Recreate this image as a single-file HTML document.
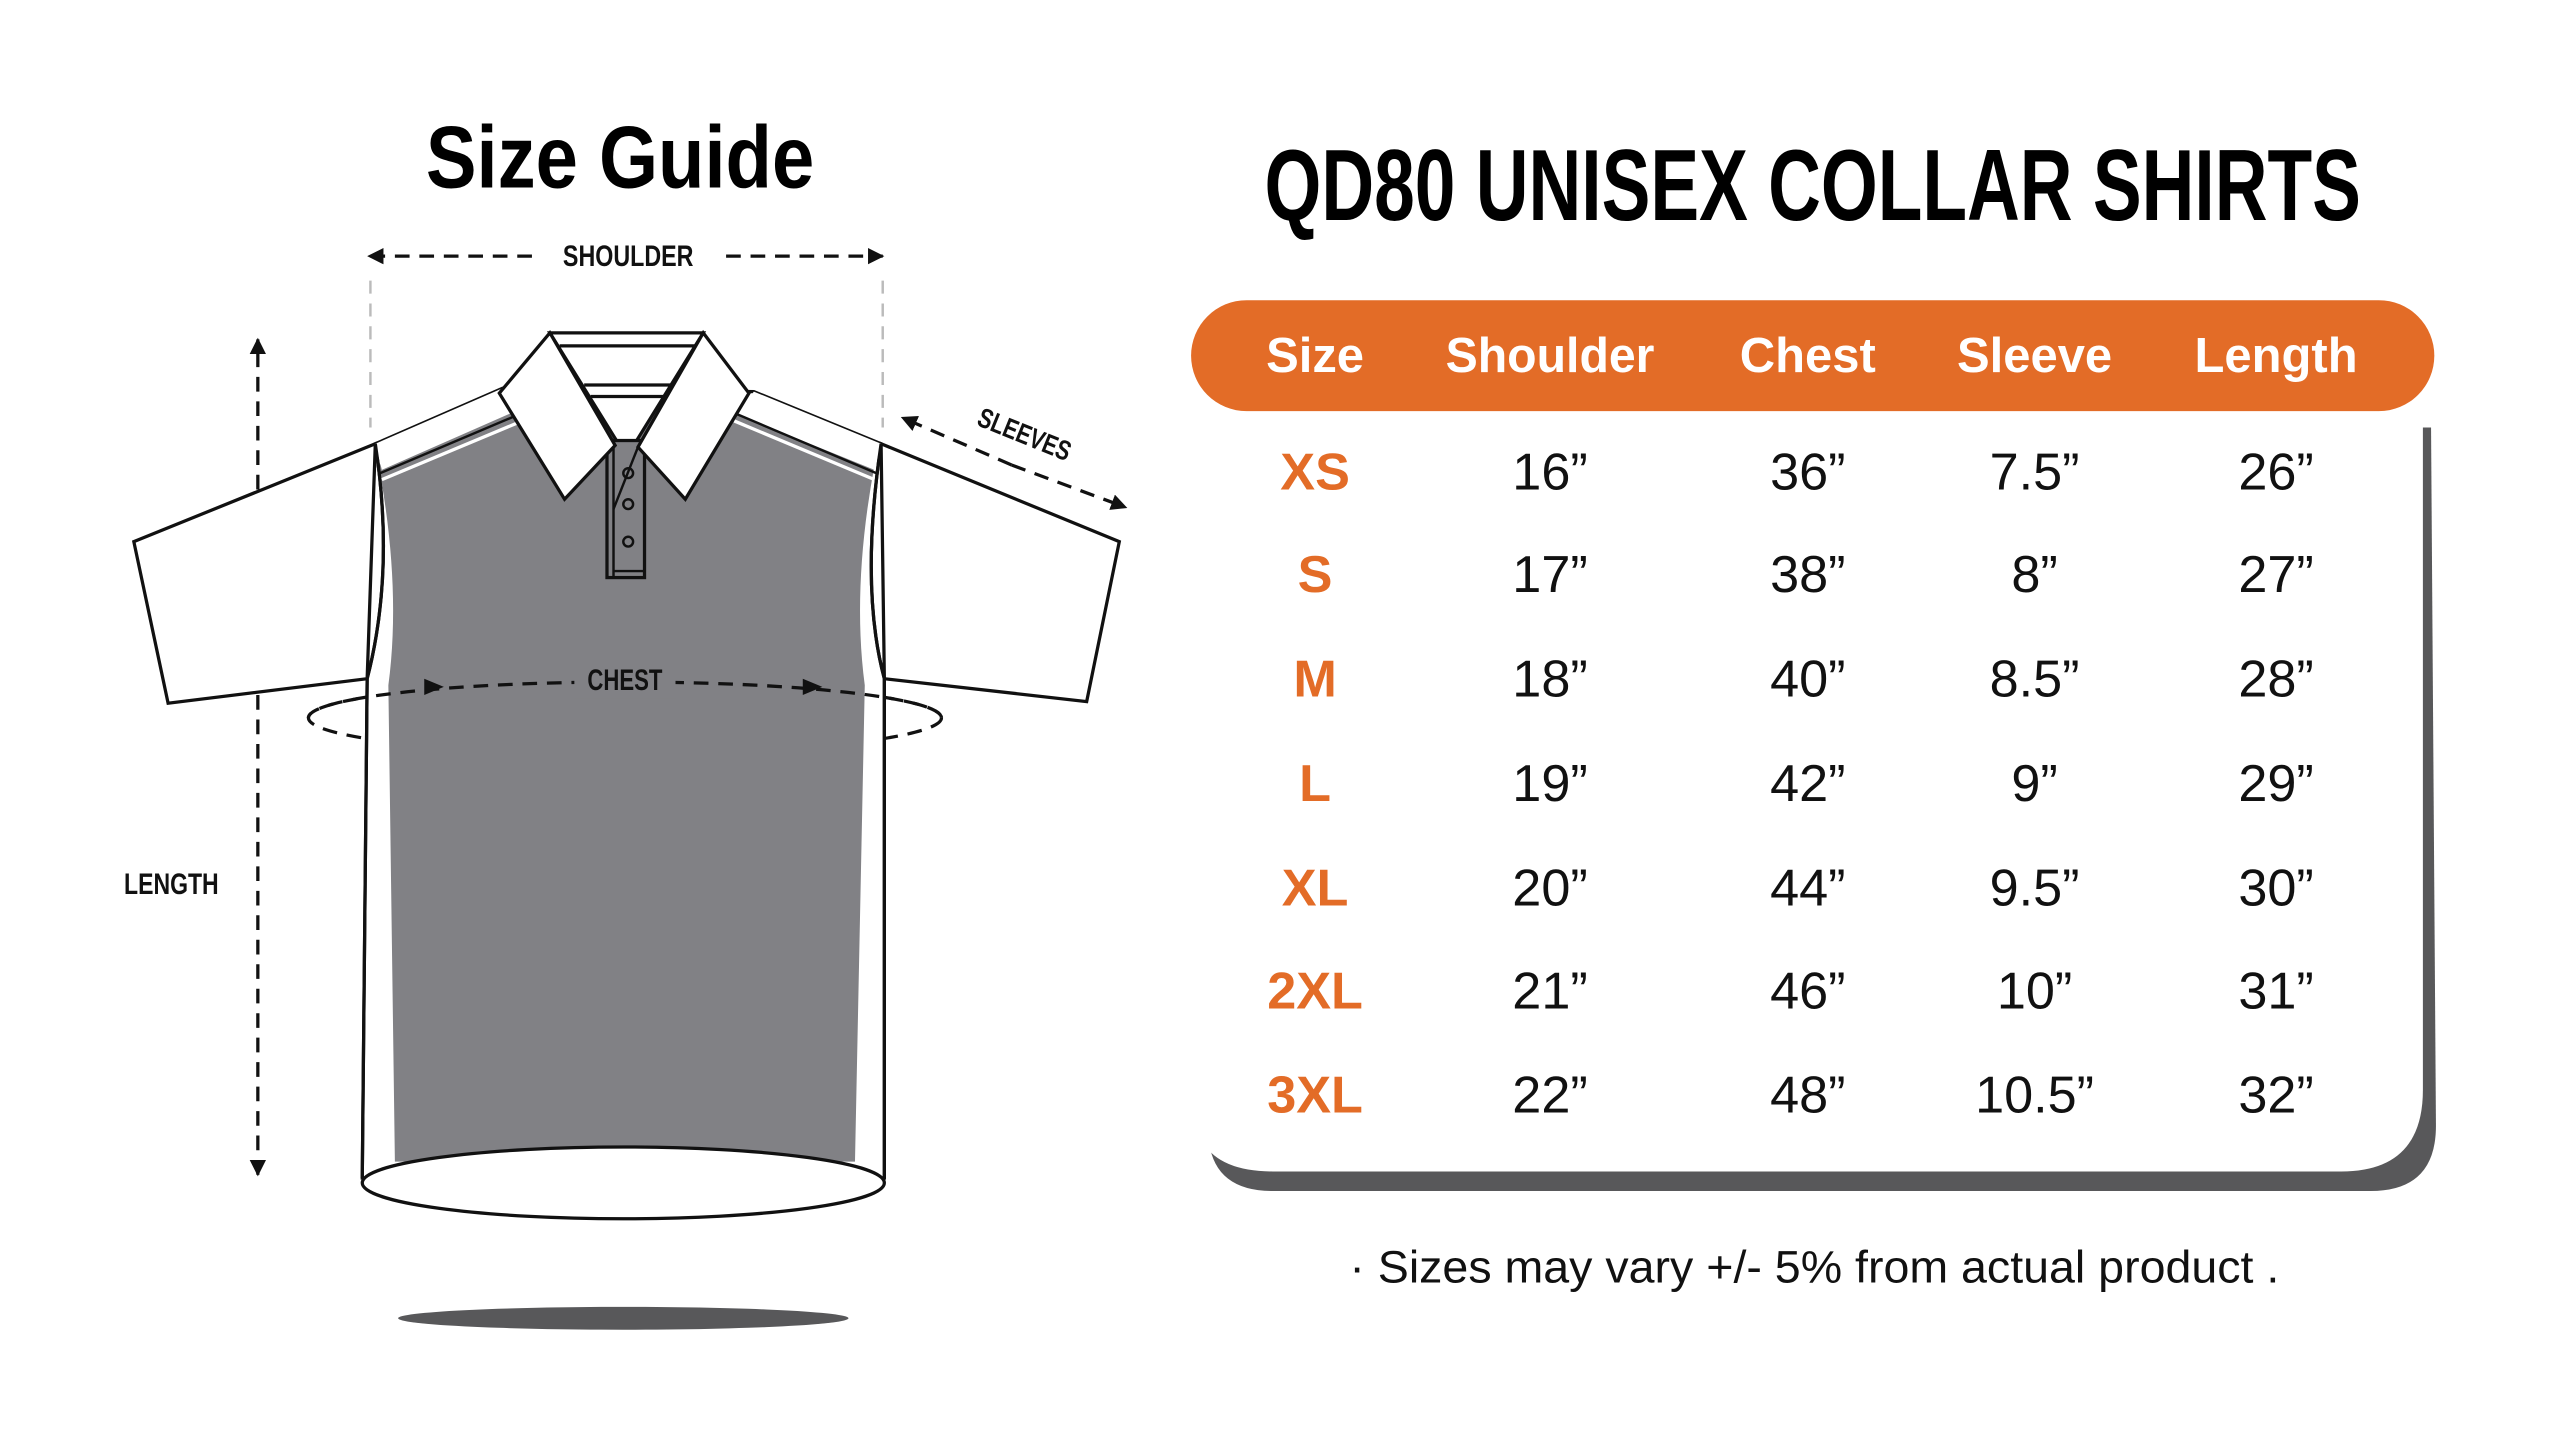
<!DOCTYPE html>
<html><head><meta charset="utf-8"><style>
html,body{margin:0;padding:0;background:#fff;width:2560px;height:1440px;overflow:hidden}
svg{display:block}
text{font-family:"Liberation Sans Narrow","Liberation Sans",sans-serif}
</style></head><body>
<svg width="2560" height="1440" viewBox="0 0 1569 882.6" xmlns="http://www.w3.org/2000/svg">
<defs>
<marker id="ah" viewBox="0 0 10 10" refX="9" refY="5" markerWidth="5" markerHeight="5" orient="auto-start-reverse"><path d="M0,0 L10,5 L0,10 z" fill="#111"/></marker>
</defs>
<rect width="1569" height="882.6" fill="#fff"/>
<!-- Titles -->
<text x="380" y="115" text-anchor="middle" font-size="54" font-weight="bold" textLength="238" lengthAdjust="spacingAndGlyphs" fill="#000">Size Guide</text>
<text x="1111" y="135" text-anchor="middle" font-size="62" font-weight="bold" textLength="672" lengthAdjust="spacingAndGlyphs" fill="#000" style="font-family:'Liberation Sans',sans-serif">QD80 UNISEX COLLAR SHIRTS</text>

<!-- shoulder measure -->
<line x1="227" y1="172" x2="227" y2="262" stroke="#bbb" stroke-width="1.5" stroke-dasharray="8,6"/>
<line x1="541" y1="172" x2="541" y2="262" stroke="#bbb" stroke-width="1.5" stroke-dasharray="8,6"/>
<line x1="326" y1="157" x2="226" y2="157" stroke="#111" stroke-width="2" stroke-dasharray="9,6" marker-end="url(#ah)"/>
<line x1="445" y1="157" x2="541" y2="157" stroke="#111" stroke-width="2" stroke-dasharray="9,6" marker-end="url(#ah)"/>
<text x="385" y="163" text-anchor="middle" font-size="18" font-weight="bold" textLength="80" lengthAdjust="spacingAndGlyphs" fill="#111">SHOULDER</text>

<!-- length -->
<line x1="158" y1="720" x2="158" y2="208" stroke="#111" stroke-width="2" stroke-dasharray="9,6" marker-start="url(#ah)" marker-end="url(#ah)"/>
<text x="105" y="548" text-anchor="middle" font-size="18" font-weight="bold" textLength="58" lengthAdjust="spacingAndGlyphs" fill="#111">LENGTH</text>

<!-- sleeves -->
<line x1="620" y1="285" x2="553" y2="256" stroke="#111" stroke-width="2" stroke-dasharray="9,6" marker-end="url(#ah)"/>
<line x1="620" y1="285" x2="690" y2="311" stroke="#111" stroke-width="2" stroke-dasharray="9,6" marker-end="url(#ah)"/>
<text x="628" y="272" text-anchor="middle" font-size="17" font-weight="bold" transform="rotate(22 628 266)" textLength="60" lengthAdjust="spacingAndGlyphs" fill="#111">SLEEVES</text>

<!-- chest ellipse back -->
<ellipse cx="383" cy="440" rx="194" ry="22" fill="none" stroke="#111" stroke-width="2" stroke-dasharray="9,6"/>

<!-- sleeves shapes -->
<path d="M230,272 L82,332 L103,431 L225,416 Z" fill="#fff" stroke="#111" stroke-width="2"/>
<path d="M540,272 L686,332 L666,430 L542,416 Z" fill="#fff" stroke="#111" stroke-width="2"/>
<!-- torso white -->
<path d="M230,272 L308,238 L462,240 L540,272 Q527,360 542,416 L542,722 L222,722 L225,416 Q242,350 230,272 Z" fill="#fff" stroke="#111" stroke-width="2"/>
<!-- gray body -->
<path d="M232,285 L320,250 L450,250 L536,285 Q522,360 530,420 L524,712 L242,712 L238,420 Q246,360 232,285 Z" fill="#818185"/>
<!-- shoulder white strips -->
<path d="M230,272 L308,238 L316,252 L234,288 Z" fill="#fff"/>
<path d="M540,272 L462,240 L452,254 L536,288 Z" fill="#fff"/>
<line x1="234" y1="294" x2="320" y2="258" stroke="#fff" stroke-width="2"/>
<line x1="536" y1="294" x2="450" y2="258" stroke="#fff" stroke-width="2"/>
<line x1="233" y1="290" x2="318" y2="254" stroke="#111" stroke-width="1.5"/>
<line x1="537" y1="290" x2="452" y2="254" stroke="#111" stroke-width="1.5"/>
<!-- torso outline again -->
<path d="M230,272 Q242,350 225,416 L222,722 M540,272 Q527,360 542,416 L542,722" fill="none" stroke="#111" stroke-width="2"/>
<!-- back collar -->
<path d="M337,204 L431,204 L384,280 Z" fill="#fff" stroke="#111" stroke-width="2"/>
<line x1="343" y1="212" x2="426" y2="212" stroke="#111" stroke-width="2"/>
<line x1="358" y1="236" x2="411" y2="236" stroke="#111" stroke-width="2"/>
<line x1="362" y1="243" x2="407" y2="243" stroke="#111" stroke-width="2"/>
<!-- placket -->
<rect x="372" y="270" width="23" height="84" fill="#818185" stroke="#111" stroke-width="2"/>
<line x1="376" y1="272" x2="376" y2="354" stroke="#111" stroke-width="1.5"/>
<line x1="376" y1="350" x2="395" y2="350" stroke="#111" stroke-width="1.5"/>
<path d="M376,312 L391,274" fill="none" stroke="#111" stroke-width="1.5"/>
<circle cx="385" cy="290" r="3" fill="none" stroke="#111" stroke-width="1.5"/>
<circle cx="385" cy="309" r="3" fill="none" stroke="#111" stroke-width="1.5"/>
<circle cx="385" cy="332" r="3" fill="none" stroke="#111" stroke-width="1.5"/>
<!-- collar flaps -->
<path d="M306,241 L337,204 L377,273 L346,306 Z" fill="#fff" stroke="#111" stroke-width="2"/>
<path d="M459,241 L431,204 L391,274 L420,306 Z" fill="#fff" stroke="#111" stroke-width="2"/>
<!-- chest front arc -->
<path d="M189,440 A194,22 0 0 1 577,440" fill="none" stroke="#111" stroke-width="2" stroke-dasharray="9,6"/>
<rect x="352" y="402" width="62" height="26" fill="#818185"/>
<text x="383" y="423" text-anchor="middle" font-size="18" font-weight="bold" textLength="46" lengthAdjust="spacingAndGlyphs" fill="#111">CHEST</text>
<path d="M260,416 L272,421 L260,426 Z" fill="#111"/>
<path d="M492,416 L504,421 L492,426 Z" fill="#111"/>
<!-- hem -->
<ellipse cx="382" cy="725" rx="160" ry="22" fill="#fff" stroke="#111" stroke-width="2"/>
<ellipse cx="382" cy="808" rx="138" ry="7" fill="#58585a"/>

<!-- table -->
<path d="M741,262 L1490,262 L1493,690 Q1493,730 1453,730 L780,730 Q745,730 741,700 Z" fill="#58585a"/>
<path d="M733,240 L1485,240 L1485,668 Q1485,718 1435,718 L780,718 Q740,718 733,690 Z" fill="#fff"/>
<rect x="730" y="184" width="762" height="68" rx="34" fill="#E36C27"/>
<g font-size="30" font-weight="bold" fill="#fff" text-anchor="middle">
<text x="806" y="228" style="font-family:'Liberation Sans',sans-serif">Size</text>
<text x="950" y="228" style="font-family:'Liberation Sans',sans-serif" textLength="128" lengthAdjust="spacingAndGlyphs">Shoulder</text>
<text x="1108" y="228" style="font-family:'Liberation Sans',sans-serif">Chest</text>
<text x="1247" y="228" style="font-family:'Liberation Sans',sans-serif">Sleeve</text>
<text x="1395" y="228" style="font-family:'Liberation Sans',sans-serif">Length</text>
</g>
<g font-size="32" text-anchor="middle" fill="#111">
<g fill="#E36C27" font-weight="bold">
<text x="806" y="300">XS</text><text x="806" y="363">S</text><text x="806" y="427">M</text><text x="806" y="491">L</text><text x="806" y="555">XL</text><text x="806" y="618">2XL</text><text x="806" y="682">3XL</text>
</g>
<text x="950" y="300">16”</text><text x="1108" y="300">36”</text><text x="1247" y="300">7.5”</text><text x="1395" y="300">26”</text>
<text x="950" y="363">17”</text><text x="1108" y="363">38”</text><text x="1247" y="363">8”</text><text x="1395" y="363">27”</text>
<text x="950" y="427">18”</text><text x="1108" y="427">40”</text><text x="1247" y="427">8.5”</text><text x="1395" y="427">28”</text>
<text x="950" y="491">19”</text><text x="1108" y="491">42”</text><text x="1247" y="491">9”</text><text x="1395" y="491">29”</text>
<text x="950" y="555">20”</text><text x="1108" y="555">44”</text><text x="1247" y="555">9.5”</text><text x="1395" y="555">30”</text>
<text x="950" y="618">21”</text><text x="1108" y="618">46”</text><text x="1247" y="618">10”</text><text x="1395" y="618">31”</text>
<text x="950" y="682">22”</text><text x="1108" y="682">48”</text><text x="1247" y="682">10.5”</text><text x="1395" y="682">32”</text>
</g>
<text x="1112" y="786" text-anchor="middle" font-size="28" fill="#111" textLength="570" lengthAdjust="spacingAndGlyphs">· Sizes may vary +/- 5% from actual product .</text>
</svg>
</body></html>
